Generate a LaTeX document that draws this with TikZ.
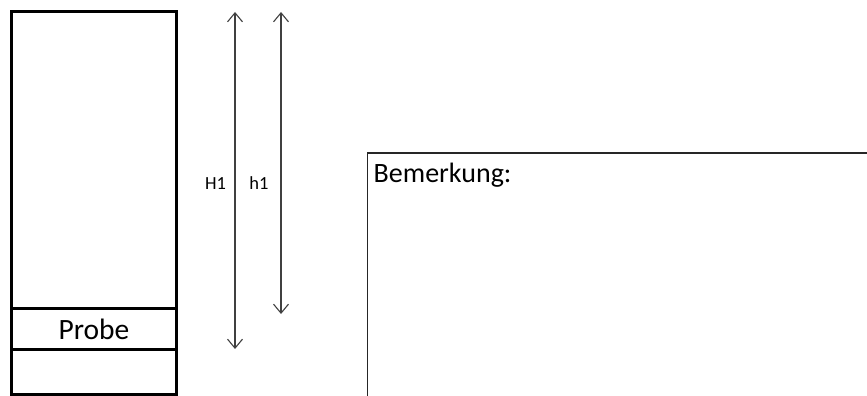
\documentclass[tikz,border=0pt]{standalone}
\usepackage{fontspec}
\setmainfont{Carlito}
\usetikzlibrary{arrows.meta}
\begin{document}
\begin{tikzpicture}[x=1pt,y=-1pt,
  thickbox/.style={draw=black,line width=3pt},
  dimarrow/.style={draw=black!75,line width=1.1pt,{Straight Barb[length=9pt,width=15pt]}-{Straight Barb[length=9pt,width=15pt]}},
  dimlabel/.style={font=\fontsize{18.5}{22}\selectfont,inner sep=0pt},
  probetext/.style={font=\fontsize{29.5}{34}\selectfont,inner sep=0pt},
  remarktext/.style={font=\fontsize{28}{33}\selectfont,inner sep=0pt}]
\useasboundingbox (0,0) rectangle (867,396);
\clip (0,0) rectangle (867,396);
% left column
\draw[thickbox] (11,11.5) rectangle (176.5,394);
\draw[thickbox] (11,308.5) -- (176.5,308.5);
\draw[thickbox] (11,349) -- (176.5,349);
\node[probetext] (probe) at (94,329) {Probe};
% dimension arrows
\coordinate (Htop) at (235,12);
\coordinate (Hbot) at (235,349);
\coordinate (htop) at (281,12);
\coordinate (hbot) at (281,314);
\draw[dimarrow] (Htop) -- (Hbot);
\draw[dimarrow] (htop) -- (hbot);
\node[dimlabel,anchor=base] (H1) at (215.5,189.5) {H1};
\node[dimlabel,anchor=base] (h1) at (259,189.5) {h1};
% remark box
\draw[draw=black!85,line width=1.5pt] (367.5,153) rectangle (900,420);
\node[remarktext,anchor=base west] (bem) at (373.5,182.5) {Bemerkung:};
\end{tikzpicture}
\end{document}
